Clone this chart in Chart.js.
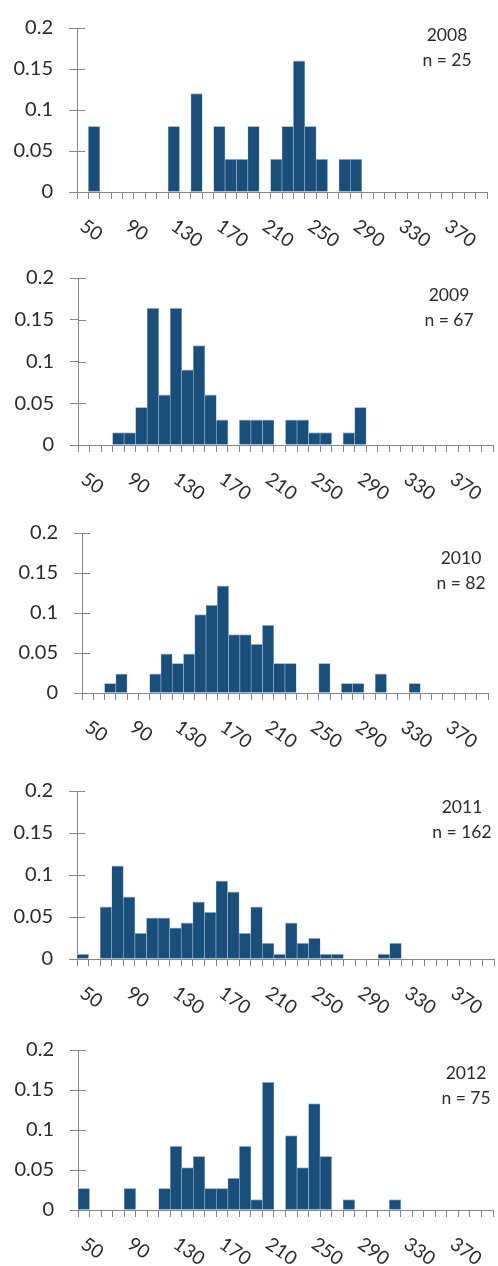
<!DOCTYPE html>
<html>
<head>
<meta charset="utf-8">
<script src="https://cdn.jsdelivr.net/npm/chart.js@4/dist/chart.umd.min.js"></script>
<style>
  body { margin: 0; background: #fff; width: 498px; height: 1266px; position: relative; overflow: hidden; font-family: Lato, "Open Sans", sans-serif; }
  canvas { position: absolute; left: 0; }
  .note { position: absolute; font-size: 17.5px; line-height: 20px; color: #2b2b2b; transform: translateX(-50%); white-space: nowrap; }
</style>
</head>
<body>
<script>
// bins (upper bound of each 10-wide class)
const categories = [50, 60, 70, 80, 90, 100, 110, 120, 130, 140, 150, 160, 170, 180, 190, 200, 210, 220,
  230, 240, 250, 260, 270, 280, 290, 300, 310, 320, 330, 340, 350, 360, 370, 380, 390, 400];
const tickLabels = ['50', '90', '130', '170', '210', '250', '290', '330', '370'];
const yTicks = [0, 0.05, 0.1, 0.15, 0.2];
const years = ['2008', '2009', '2010', '2011', '2012'];
const sampleSizes = [25, 67, 82, 162, 75];

// share of observations per bin
const share2008 = [0, 0.08, 0, 0, 0, 0, 0, 0, 0.08, 0, 0.12, 0, 0.08, 0.04, 0.04, 0.08, 0, 0.04,
  0.08, 0.16, 0.08, 0.04, 0, 0.04, 0.04, 0, 0, 0, 0, 0, 0, 0, 0, 0, 0, 0];
const share2009 = [0, 0, 0, 0.015, 0.015, 0.045, 0.164, 0.06, 0.164, 0.09, 0.119, 0.06, 0.03, 0, 0.03, 0.03, 0.03, 0,
  0.03, 0.03, 0.015, 0.015, 0, 0.015, 0.045, 0, 0, 0, 0, 0, 0, 0, 0, 0, 0, 0];
const share2010 = [0, 0, 0.012, 0.024, 0, 0, 0.024, 0.049, 0.037, 0.049, 0.098, 0.11, 0.134, 0.073, 0.073, 0.061, 0.085, 0.037,
  0.037, 0, 0, 0.037, 0, 0.012, 0.012, 0, 0.024, 0, 0, 0.012, 0, 0, 0, 0, 0, 0];
const share2011 = [0.006, 0, 0.062, 0.111, 0.074, 0.031, 0.049, 0.049, 0.037, 0.043, 0.068, 0.056, 0.093, 0.08, 0.031, 0.062, 0.019, 0.006,
  0.043, 0.019, 0.025, 0.006, 0.006, 0, 0, 0, 0.006, 0.019, 0, 0, 0, 0, 0, 0, 0, 0];
const share2012 = [0.027, 0, 0, 0, 0.027, 0, 0, 0.027, 0.08, 0.053, 0.067, 0.027, 0.027, 0.04, 0.08, 0.013, 0.16, 0,
  0.093, 0.053, 0.133, 0.067, 0, 0.013, 0, 0, 0, 0.013, 0, 0, 0, 0, 0, 0, 0, 0];
const seriesByYear = [share2008, share2009, share2010, share2011, share2012];

// where each panel sits on the page
const panels = [
  { top: 0, plotTop: 15, plotBottom: 192, plotLeft: 77, plotRight: 487, noteX: 447, noteY: 35 },
  { top: 250, plotTop: 270, plotBottom: 445, plotLeft: 78, plotRight: 493, noteX: 449, noteY: 295 },
  { top: 500, plotTop: 533, plotBottom: 693, plotLeft: 82, plotRight: 488, noteX: 461, noteY: 558 },
  { top: 750, plotTop: 791, plotBottom: 959, plotLeft: 77, plotRight: 494, noteX: 462, noteY: 807 },
  { top: 1000, plotTop: 1050, plotBottom: 1210, plotLeft: 78, plotRight: 493, noteX: 466, noteY: 1073 }
];
const canvasHeight = 266;

const barColor = '#1b4f7b';
const barEdge = '#a9bfd6';
const axisColor = '#868686';
const textColor = '#2b2b2b';
const fontFamily = 'Lato, "Open Sans", sans-serif';

// inner half of the y tick marks + slanted bin labels
const histogramAxes = {
  id: 'histogramAxes',
  afterDraw(chart) {
    const ctx = chart.ctx;
    const xs = chart.scales.x, ys = chart.scales.y;
    const area = chart.chartArea;
    ctx.save();
    ctx.strokeStyle = axisColor;
    ctx.lineWidth = 1;
    ctx.beginPath();
    yTicks.forEach(v => {
      const py = Math.round(ys.getPixelForValue(v)) + 0.5;
      ctx.moveTo(area.left, py);
      ctx.lineTo(area.left + 8, py);
    });
    ctx.stroke();

    ctx.fillStyle = textColor;
    ctx.font = '19px ' + fontFamily;
    ctx.textAlign = 'left';
    ctx.textBaseline = 'alphabetic';
    tickLabels.forEach(lbl => {
      const i = categories.indexOf(Number(lbl));
      const px = xs.getPixelForValue(i);
      ctx.save();
      ctx.translate(px - 4, area.bottom + 37);
      ctx.rotate(35 * Math.PI / 180);
      ctx.fillText(lbl, 0, 0);
      ctx.restore();
    });
    ctx.restore();
  }
};

panels.forEach((p, k) => {
  const canvas = document.createElement('canvas');
  canvas.width = 498;
  canvas.height = canvasHeight;
  canvas.style.width = '498px';
  canvas.style.height = canvasHeight + 'px';
  canvas.style.top = p.top + 'px';
  document.body.appendChild(canvas);

  new Chart(canvas, {
    type: 'bar',
    data: {
      labels: categories,
      datasets: [{
        data: seriesByYear[k],
        backgroundColor: barColor,
        borderColor: barEdge,
        borderWidth: { top: 1, left: 0.6, right: 0.6, bottom: 0 },
        barPercentage: 1,
        categoryPercentage: 1
      }]
    },
    options: {
      responsive: false,
      animation: false,
      layout: { padding: { left: 0, right: 498 - p.plotRight, top: p.plotTop - p.top, bottom: 0 } },
      plugins: { legend: { display: false }, tooltip: { enabled: false } },
      scales: {
        x: {
          grid: { offset: true, drawOnChartArea: false, drawTicks: true, tickLength: 7, color: axisColor },
          border: { color: axisColor },
          ticks: { display: false },
          afterFit: s => { s.height = p.top + canvasHeight - p.plotBottom; }
        },
        y: {
          min: 0,
          max: 0.2,
          afterBuildTicks: s => { s.ticks = yTicks.map(v => ({ value: v })); },
          grid: { drawOnChartArea: false, tickLength: 8, color: axisColor },
          border: { color: axisColor },
          ticks: { padding: 16, color: textColor, font: { family: fontFamily, size: 20 }, callback: v => String(v) },
          afterFit: s => { s.width = p.plotLeft; }
        }
      }
    },
    plugins: [histogramAxes]
  });

  const yearNote = document.createElement('div');
  yearNote.className = 'note';
  yearNote.textContent = years[k];
  yearNote.style.left = p.noteX + 'px';
  yearNote.style.top = (p.noteY - 10.5) + 'px';
  document.body.appendChild(yearNote);

  const nNote = document.createElement('div');
  nNote.className = 'note';
  nNote.textContent = 'n = ' + sampleSizes[k];
  nNote.style.left = p.noteX + 'px';
  nNote.style.top = (p.noteY + 25 - 10.5) + 'px';
  document.body.appendChild(nNote);
});
</script>
</body>
</html>
